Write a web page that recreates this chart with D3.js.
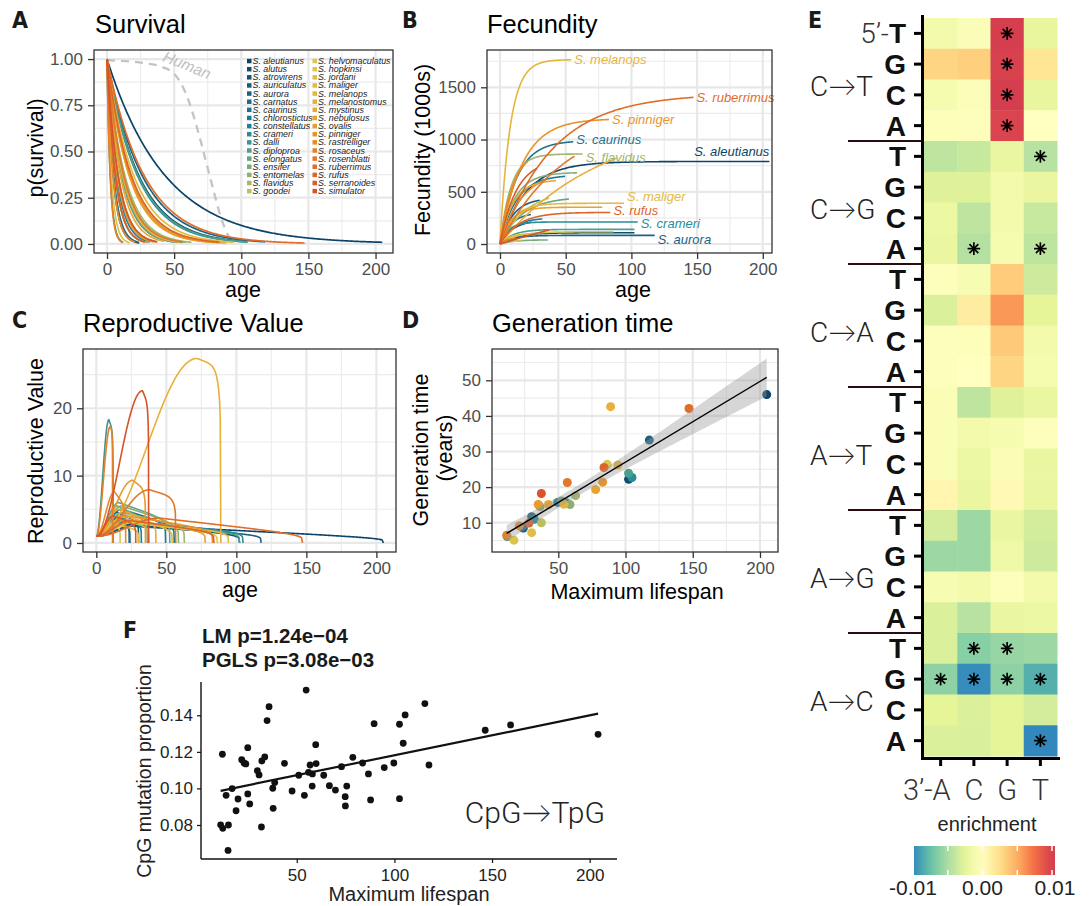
<!DOCTYPE html>
<html>
<head>
<meta charset="utf-8">
<script src="https://cdn.jsdelivr.net/npm/d3@7"></script>
<style>
  body { margin: 0; background: #fff; }
  text { font-family: "Liberation Sans", Arial, sans-serif; }
</style>
</head>
<body>
<svg width="1091" height="906"></svg>
<script>

// ---------------- data ----------------
var species = ["aleutianus", "alutus", "atrovirens", "auriculatus", "aurora", "carnatus", "caurinus",
    "chlorostictus", "constellatus", "crameri", "dalli", "diploproa", "elongatus", "ensifer", "entomelas",
    "flavidus", "goodei", "helvomaculatus", "hopkinsi", "jordani", "maliger", "melanops", "melanostomus",
    "mystinus", "nebulosus", "ovalis", "pinniger", "rastrelliger", "rosaceus", "rosenblatti", "ruberrimus",
    "rufus", "serranoides", "simulator"];

// maximum lifespan (years) and generation time (years), panel D
var lifespan = [205, 102.3, 24, 30.2, 117.7, 23.5, 55.7, 49.5, 32.2, 104.8, 12, 102.3, 52.5, 36.4, 58.7,
    62.9, 37.4, 86.4, 17, 30.2, 94.4, 54.2, 88.9, 42.6, 77.8, 35.1, 83, 21, 11.6, 56.7, 147.2, 84, 28.2, 37.4];
var genTime = [46.0, 22.2, 8.5, 11.7, 33.2, 8.6, 15.6, 15.7, 11.0, 22.7, 6.1, 23.9, 16.1, 14.5, 15.1,
    17.6, 10.0, 26.4, 5.1, 7.2, 26.2, 15.2, 42.6, 15.1, 19.3, 15.1, 21.4, 9.1, 6.5, 21.3, 42.1, 25.5, 9.9, 18.2];

// natural mortality per year (panel A)
var mortality = [0.023, 0.042, 0.22, 0.16, 0.038, 0.2, 0.085, 0.09, 0.14, 0.044, 0.4, 0.043, 0.09, 0.12, 0.08,
    0.075, 0.12, 0.055, 0.3, 0.16, 0.05, 0.085, 0.06, 0.1, 0.06, 0.13, 0.058, 0.22, 0.42, 0.08, 0.036, 0.055, 0.16, 0.12];

// fecundity asymptote (1000s) and growth rate (panel B)
var fecMax = [790, 108, 230, 440, 83, 300, 990, 660, 250, 211, 50, 140, 450, 40, 685,
    862, 520, 118, 30, 100, 390, 1765, 1200, 615, 352, 700, 1200, 900, 60, 1240, 1440, 303, 810, 790];
var fecRate = [0.05, 0.08, 0.1, 0.1, 0.1, 0.12, 0.08, 0.08, 0.1, 0.15, 0.2, 0.1, 0.06, 0.1, 0.09,
    0.12, 0.05, 0.08, 0.2, 0.15, 0.1, 0.13, 0.013, 0.1, 0.12, 0.06, 0.06, 0.1, 0.2, 0.02, 0.025, 0.07, 0.08, 0.005];

// reproductive value peak, age at peak and late-life decline (panel C)
var rvPeak = [2.6, 2.8, 3.5, 4.5, 2.5, 3.8, 4.5, 5.0, 4.0, 3.3, 18.3, 3.0, 6.0, 5.5, 5.5,
    4.5, 3.5, 3.0, 3.0, 2.8, 3.2, 4.0, 27.4, 5.0, 3.5, 9.3, 4.0, 7.6, 17.3, 7.9, 3.7, 3.3, 4.0, 22.6];
var rvPeakAge = [28, 22, 12, 15, 25, 12, 20, 18, 14, 18, 9, 20, 16, 15, 18,
    18, 16, 25, 8, 12, 25, 20, 72, 16, 22, 26, 22, 13, 10, 38, 45, 25, 12, 33];
var rvDecline = [0.7, 0.55, 0.3, 0.3, 0.5, 0.3, 0.4, 0.4, 0.3, 0.5, 0.1, 0.5, 0.45, 0.4, 0.5,
    0.45, 0.3, 0.5, 0.2, 0.3, 0.5, 0.5, 0.05, 0.4, 0.5, 0.15, 0.5, 0.3, 0.05, 0.15, 0.65, 0.5, 0.3, 0.1];

// human survival reference (panel A)
var humanAge = [0, 10, 20, 30, 40, 50, 55, 60, 65, 70, 75, 80, 85, 90, 95];
var humanSurv = [0.995, 0.99, 0.985, 0.975, 0.96, 0.92, 0.87, 0.79, 0.68, 0.55, 0.41, 0.27, 0.14, 0.05, 0.0];

// labelled curves in panel B and the small vertical nudge of each label
var labelledB = ["melanops", "ruberrimus", "pinniger", "caurinus", "flavidus", "aleutianus",
    "maliger", "rufus", "crameri", "aurora"];
var labelNudgeB = [0, 0, 0, -2, 3, -3, -7, -2, 2, 4];

// panel F
var cpgLifespan = [11.0, 12.1, 15.0, 14.8, 11.9, 13.8, 16.9, 18.9, 19.9, 21.8,
    23.0, 23.9, 24.9, 24.9, 25.9, 29.8, 30.7, 31.9, 32.1, 33.6,
    34.8, 35.8, 37.7, 37.9, 38.7, 43.7, 47.6, 51.0, 53.9, 54.8,
    56.0, 56.8, 57.9, 58.0, 59.7, 59.9, 63.8, 66.7, 69.8, 72.9,
    74.8, 74.9, 75.6, 78.7, 83.7, 86.7, 87.8, 89.6, 94.8, 99.7,
    102.6, 102.6, 104.5, 105.5, 115.6, 117.7, 146.5, 159.5, 204.3];
var cpgProp = [0.0801, 0.0782, 0.0800, 0.0661, 0.1187, 0.0962, 0.0999, 0.0878, 0.0942, 0.1157,
    0.1139, 0.1134, 0.1223, 0.0970, 0.0915, 0.1097, 0.1074, 0.0789, 0.1150, 0.1172,
    0.1371, 0.1447, 0.1001, 0.0891, 0.1033, 0.1137, 0.0986, 0.1072, 0.0962, 0.1538,
    0.1088, 0.1128, 0.1013, 0.1079, 0.1239, 0.1136, 0.1072, 0.1015, 0.0991, 0.1119,
    0.0955, 0.0904, 0.1013, 0.1170, 0.1139, 0.1079, 0.0937, 0.1354, 0.1114, 0.1139,
    0.1351, 0.0944, 0.1247, 0.1402, 0.1464, 0.1128, 0.1318, 0.1347, 0.1296];

// panel E
var mutTypes = ["C→T", "C→G", "C→A", "A→T", "A→G", "A→C"];
var fivePrime = ["T", "G", "C", "A"];
var threePrime = ["A", "C", "G", "T"];
var enrichment = [
    [-0.0012, -0.0005, 0.0100, -0.0022],
    [0.0030, 0.0033, 0.0098, 0.0020],
    [-0.0010, -0.0004, 0.0105, -0.0022],
    [-0.0003, -0.0002, 0.0097, 0.0000],
    [-0.0042, -0.0038, -0.0020, -0.0045],
    [-0.0028, -0.0028, -0.0012, -0.0020],
    [-0.0018, -0.0042, -0.0012, -0.0038],
    [-0.0020, -0.0046, -0.0010, -0.0042],
    [-0.0002, -0.0008, 0.0035, -0.0035],
    [-0.0030, 0.0015, 0.0058, -0.0025],
    [-0.0002, -0.0003, 0.0036, -0.0012],
    [-0.0002, 0.0000, 0.0030, -0.0010],
    [-0.0006, -0.0042, -0.0028, -0.0020],
    [-0.0006, -0.0012, -0.0010, -0.0002],
    [-0.0006, -0.0018, -0.0006, -0.0020],
    [0.0008, -0.0020, 0.0005, -0.0020],
    [-0.0033, -0.0055, -0.0020, -0.0033],
    [-0.0055, -0.0055, -0.0015, -0.0035],
    [-0.0008, -0.0012, -0.0002, -0.0012],
    [-0.0030, -0.0045, -0.0020, -0.0018],
    [-0.0030, -0.0063, -0.0057, -0.0055],
    [-0.0061, -0.0098, -0.0061, -0.0083],
    [-0.0025, -0.0030, -0.0025, -0.0033],
    [-0.0030, -0.0031, -0.0025, -0.0100]
];
// [row, column] of significant cells
var signifCells = [[0, 2], [1, 2], [2, 2], [3, 2], [4, 3], [7, 1], [7, 3],
    [20, 1], [20, 2], [21, 0], [21, 1], [21, 2], [21, 3], [23, 3]];
var enrichTicks = [-0.01, 0, 0.01];

// ---------------- setup ----------------
var svg = d3.select("svg");
var fontCond = "'Liberation Sans Narrow', 'DejaVu Sans Condensed', sans-serif";
var fontLight = "Roboto, Lato, 'Liberation Sans', sans-serif";
var titleSize = 25.5, axisTitleSize = 21.5, tickSize = 17;

var colorLin = d3.scaleLinear()
    .domain([0, 5, 8, 11, 15, 17, 22, 26, 33])
    .range(["#0b4468", "#1f6a88", "#17839e", "#4e9e8c", "#a0b66a", "#dcc84e", "#e8b03a", "#e8942a", "#d8522a"]);
var speciesColor = d3.scaleOrdinal()
    .domain(species)
    .range(species.map(function (s, i) { return colorLin(i); }));

var clipId = 0;

// ggplot theme_bw style panel
function bwPanel(p) {
    var x = d3.scaleLinear().domain(p.xDomain).range([p.left, p.right]);
    var y = d3.scaleLinear().domain(p.yDomain).range([p.bottom, p.top]);
    var g = svg.append("g");

    var grid = g.append("g");
    grid.selectAll(".vmin").data(p.xMinor).enter().append("line")
        .attr("x1", x).attr("x2", x).attr("y1", p.top).attr("y2", p.bottom)
        .attr("stroke", "#ececec").attr("stroke-width", 1.1);
    grid.selectAll(".hmin").data(p.yMinor).enter().append("line")
        .attr("y1", y).attr("y2", y).attr("x1", p.left).attr("x2", p.right)
        .attr("stroke", "#ececec").attr("stroke-width", 1.1);
    grid.selectAll(".vmaj").data(p.xMajor).enter().append("line")
        .attr("x1", x).attr("x2", x).attr("y1", p.top).attr("y2", p.bottom)
        .attr("stroke", "#e8e8e8").attr("stroke-width", 2.2);
    grid.selectAll(".hmaj").data(p.yMajor).enter().append("line")
        .attr("y1", y).attr("y2", y).attr("x1", p.left).attr("x2", p.right)
        .attr("stroke", "#e8e8e8").attr("stroke-width", 2.2);

    var cid = "clip" + (clipId++);
    g.append("clipPath").attr("id", cid).append("rect")
        .attr("x", p.left).attr("y", p.top)
        .attr("width", p.right - p.left).attr("height", p.bottom - p.top);
    var plot = g.append("g").attr("clip-path", "url(#" + cid + ")");
    var over = g.append("g");

    g.append("rect")
        .attr("x", p.left).attr("y", p.top)
        .attr("width", p.right - p.left).attr("height", p.bottom - p.top)
        .attr("fill", "none").attr("stroke", "#333").attr("stroke-width", 1.3);

    var xa = g.append("g").attr("transform", "translate(0," + p.bottom + ")")
        .call(d3.axisBottom(x).tickValues(p.xMajor).tickSize(6).tickPadding(4).tickFormat(d3.format("d")));
    var ya = g.append("g").attr("transform", "translate(" + p.left + ",0)")
        .call(d3.axisLeft(y).tickValues(p.yMajor).tickSize(6).tickPadding(5).tickFormat(p.yFormat || d3.format("d")));
    [xa, ya].forEach(function (a) {
        a.select(".domain").remove();
        a.selectAll(".tick line").attr("stroke", "#333").attr("stroke-width", 1.3);
        a.selectAll(".tick text").attr("fill", "#4d4d4d").attr("font-size", tickSize)
            .attr("font-family", "'Liberation Sans', Arial, sans-serif");
    });
    return { x: x, y: y, plot: plot, over: over };
}

function addText(t, x, y, size, opts) {
    opts = opts || {};
    var el = svg.append("text")
        .attr("x", x).attr("y", y)
        .attr("font-size", size)
        .attr("fill", opts.fill || "#000")
        .attr("text-anchor", opts.anchor || "start")
        .text(t);
    if (opts.weight) el.attr("font-weight", opts.weight);
    if (opts.family) el.style("font-family", opts.family);
    if (opts.rotate) el.attr("transform", "rotate(" + opts.rotate + "," + x + "," + y + ")");
    if (opts.italic) el.attr("font-style", "italic");
    return el;
}

function panelLetter(t, x, y) {
    addText(t, x, y, 23, { weight: "bold", family: fontCond, fill: "#1a1a1a" });
}

var ageSteps = d3.range(0, 1.0001, 1 / 240);

// ---------------- A: survival ----------------
var pA = bwPanel({
    left: 94, right: 393, top: 50, bottom: 253,
    xDomain: [-9.7, 213], yDomain: [-0.049, 1.049],
    xMajor: [0, 50, 100, 150, 200], xMinor: [25, 75, 125, 175],
    yMajor: [0, 0.25, 0.5, 0.75, 1], yMinor: [0.125, 0.375, 0.625, 0.875],
    yFormat: d3.format(".2f")
});

var humanLine = d3.line()
    .x(function (d, i) { return pA.x(humanAge[i]); })
    .y(function (d) { return pA.y(d); })
    .curve(d3.curveMonotoneX);
pA.plot.append("path")
    .attr("d", humanLine(humanSurv))
    .attr("fill", "none").attr("stroke", "#c4c4c4")
    .attr("stroke-width", 2.3).attr("stroke-dasharray", "8,6");

var survLine = d3.line()
    .x(function (d) { return pA.x(d[0]); })
    .y(function (d) { return pA.y(d[1]); });
pA.plot.selectAll(".surv").data(species).enter().append("path")
    .attr("d", function (s, i) {
        return survLine(ageSteps.map(function (f) {
            var t = f * lifespan[i];
            return [t, Math.exp(-mortality[i] * t)];
        }));
    })
    .attr("fill", "none")
    .attr("stroke", function (s) { return speciesColor(s); })
    .attr("stroke-width", 1.7);

addText("Human", 185, 70, 15.5, { fill: "#c0c0c0", italic: true, anchor: "middle", rotate: 22 });

// legend
var legendRows = 17;
var legend = pA.over.selectAll(".leg").data(species).enter().append("g")
    .attr("transform", function (s, i) {
        var col = Math.floor(i / legendRows), row = i % legendRows;
        return "translate(" + (247 + col * 65.5) + "," + (61 + row * 8.13) + ")";
    });
legend.append("rect")
    .attr("x", 0).attr("y", -2.2).attr("width", 4.5).attr("height", 4.5)
    .attr("fill", function (s) { return speciesColor(s); });
legend.append("text")
    .attr("x", 5.5).attr("y", 3.1)
    .attr("font-size", 8.9).attr("font-style", "italic").attr("fill", "#222")
    .text(function (s) { return "S. " + s; });

panelLetter("A", 12, 28);
addText("Survival", 95, 33, titleSize);
addText("p(survival)", 43, 148, axisTitleSize, { anchor: "middle", rotate: -90 });
addText("age", 243, 297, axisTitleSize, { anchor: "middle" });

// ---------------- B: fecundity ----------------
var pB = bwPanel({
    left: 487, right: 772, top: 50, bottom: 253,
    xDomain: [-9.9, 207], yDomain: [-86, 1857],
    xMajor: [0, 50, 100, 150, 200], xMinor: [25, 75, 125, 175],
    yMajor: [0, 500, 1000, 1500], yMinor: [250, 750, 1250, 1750]
});
var fecLine = d3.line()
    .x(function (d) { return pB.x(d[0]); })
    .y(function (d) { return pB.y(d[1]); });
function fecAt(i, t) { return fecMax[i] * (1 - Math.exp(-fecRate[i] * t)); }
pB.plot.selectAll(".fec").data(species).enter().append("path")
    .attr("d", function (s, i) {
        return fecLine(ageSteps.map(function (f) {
            var t = f * lifespan[i];
            return [t, fecAt(i, t)];
        }));
    })
    .attr("fill", "none")
    .attr("stroke", function (s) { return speciesColor(s); })
    .attr("stroke-width", 1.6);

pB.over.selectAll(".flab").data(labelledB).enter().append("text")
    .attr("x", function (s) {
        var i = species.indexOf(s);
        return pB.x(lifespan[i]) + (s === "aleutianus" ? 0 : 3);
    })
    .attr("y", function (s, j) {
        var i = species.indexOf(s);
        return pB.y(fecAt(i, lifespan[i])) + 4.5 + labelNudgeB[j] + (s === "aleutianus" ? -7 : 0);
    })
    .attr("text-anchor", function (s) { return s === "aleutianus" ? "end" : "start"; })
    .attr("font-size", 13).attr("font-style", "italic")
    .attr("fill", function (s) { return speciesColor(s); })
    .text(function (s) { return "S. " + s; });

panelLetter("B", 402, 28);
addText("Fecundity", 487, 33, titleSize);
addText("Fecundity (1000s)", 430, 150, axisTitleSize, { anchor: "middle", rotate: -90 });
addText("age", 633, 297, axisTitleSize, { anchor: "middle" });

// ---------------- C: reproductive value ----------------
var pC = bwPanel({
    left: 83, right: 396, top: 349, bottom: 552,
    xDomain: [-9.5, 214], yDomain: [-1.34, 28.8],
    xMajor: [0, 50, 100, 150, 200], xMinor: [25, 75, 125, 175],
    yMajor: [0, 10, 20], yMinor: [5, 15, 25]
});
function rvAt(i, t) {
    var w = lifespan[i], pa = rvPeakAge[i], pk = rvPeak[i], u;
    if (t <= pa) {
        u = Math.sin(t / pa * Math.PI / 2);
        return 1 + (pk - 1) * u * u;
    }
    u = Math.min(1, (t - pa) / (w - pa));
    return pk * (1 - rvDecline[i] * u) * Math.pow(Math.max(0, 1 - Math.pow(u, 6)), 1 / 6);
}
var rvLine = d3.line()
    .x(function (d) { return pC.x(d[0]); })
    .y(function (d) { return pC.y(d[1]); });
pC.plot.selectAll(".rv").data(species).enter().append("path")
    .attr("d", function (s, i) {
        return rvLine(ageSteps.map(function (f) {
            var t = f * lifespan[i];
            return [t, rvAt(i, t)];
        }));
    })
    .attr("fill", "none")
    .attr("stroke", function (s) { return speciesColor(s); })
    .attr("stroke-width", 1.6);

panelLetter("C", 12, 328);
addText("Reproductive Value", 83, 332, titleSize);
addText("Reproductive Value", 43, 451, axisTitleSize, { anchor: "middle", rotate: -90 });
addText("age", 240, 597, axisTitleSize, { anchor: "middle" });

// ---------------- D: generation time ----------------
function linFit(xs, ys) {
    var n = xs.length, mx = d3.mean(xs), my = d3.mean(ys);
    var sxx = d3.sum(xs, function (v) { return (v - mx) * (v - mx); });
    var sxy = d3.sum(xs.map(function (v, i) { return (v - mx) * (ys[i] - my); }));
    var b = sxy / sxx, a = my - b * mx;
    var sse = d3.sum(xs.map(function (v, i) { var r = ys[i] - a - b * v; return r * r; }));
    return { a: a, b: b, s: Math.sqrt(sse / (n - 2)), n: n, mx: mx, sxx: sxx };
}

var pD = bwPanel({
    left: 492, right: 778, top: 349, bottom: 552,
    xDomain: [0.7, 213.4], yDomain: [1.77, 58.8],
    xMajor: [50, 100, 150, 200], xMinor: [25, 75, 125, 175],
    yMajor: [10, 20, 30, 40, 50], yMinor: [5, 15, 25, 35, 45, 55]
});
pD.plot.selectAll(".gpt").data(species).enter().append("circle")
    .attr("cx", function (s, i) { return pD.x(lifespan[i]); })
    .attr("cy", function (s, i) { return pD.y(genTime[i]); })
    .attr("r", 4.5)
    .attr("fill", function (s) { return speciesColor(s); });

var fitD = linFit(lifespan, genTime);
var xsD = d3.range(d3.min(lifespan), d3.max(lifespan) + 0.001, (d3.max(lifespan) - d3.min(lifespan)) / 80);
var tCrit = 2.037;
function seD(v) { return fitD.s * Math.sqrt(1 / fitD.n + (v - fitD.mx) * (v - fitD.mx) / fitD.sxx); }
var bandD = d3.area()
    .x(function (v) { return pD.x(v); })
    .y0(function (v) { return pD.y(fitD.a + fitD.b * v - tCrit * seD(v)); })
    .y1(function (v) { return pD.y(fitD.a + fitD.b * v + tCrit * seD(v)); });
pD.plot.append("path").attr("d", bandD(xsD)).attr("fill", "#999").attr("fill-opacity", 0.4);
pD.plot.append("line")
    .attr("x1", pD.x(xsD[0])).attr("y1", pD.y(fitD.a + fitD.b * xsD[0]))
    .attr("x2", pD.x(xsD[xsD.length - 1])).attr("y2", pD.y(fitD.a + fitD.b * xsD[xsD.length - 1]))
    .attr("stroke", "#000").attr("stroke-width", 1.4);

panelLetter("D", 402, 328);
addText("Generation time", 492, 332, titleSize);
addText("Generation time", 428, 450, axisTitleSize, { anchor: "middle", rotate: -90 });
addText("(years)", 452, 448, axisTitleSize, { anchor: "middle", rotate: -90 });
addText("Maximum lifespan", 637, 599, axisTitleSize, { anchor: "middle" });

// ---------------- E: heatmap ----------------
var rowIdx = d3.range(enrichment.length);
var yHeat = d3.scaleBand().domain(rowIdx).range([18, 756]);
var xHeat = d3.scaleBand().domain(threePrime).range([924, 1057]);
var heatColor = d3.scaleLinear()
    .domain([-0.01, -0.0075, -0.005, -0.0025, 0, 0.0025, 0.005, 0.0075, 0.01])
    .range(["#3288bd", "#66c2a5", "#abdda4", "#e6f598", "#ffffbf", "#fee08b", "#fdae61", "#f46d43", "#d53e4f"])
    .clamp(true);

var cells = [];
enrichment.forEach(function (row, r) {
    row.forEach(function (v, c) { cells.push({ r: r, c: threePrime[c], v: v }); });
});
svg.append("g").selectAll("rect").data(cells).enter().append("rect")
    .attr("x", function (d) { return xHeat(d.c); })
    .attr("y", function (d) { return yHeat(d.r); })
    .attr("width", xHeat.bandwidth() + 0.5)
    .attr("height", yHeat.bandwidth() + 0.5)
    .attr("fill", function (d) { return heatColor(d.v); });

// asterisks
var star = svg.append("g").selectAll("g").data(signifCells).enter().append("g")
    .attr("transform", function (d) {
        return "translate(" + (xHeat(threePrime[d[1]]) + xHeat.bandwidth() / 2) + "," +
            (yHeat(d[0]) + yHeat.bandwidth() / 2) + ")";
    });
[0, 45, 90, 135].forEach(function (a) {
    star.append("line")
        .attr("x1", -6.3).attr("x2", 6.3).attr("y1", 0).attr("y2", 0)
        .attr("transform", "rotate(" + a + ")")
        .attr("stroke", "#000").attr("stroke-width", 1.7);
});

// axes
var axE = svg.append("g");
axE.append("line").attr("x1", 922.5).attr("x2", 922.5).attr("y1", 15).attr("y2", 760)
    .attr("stroke", "#000").attr("stroke-width", 3);
axE.append("line").attr("x1", 921).attr("x2", 1060).attr("y1", 758.5).attr("y2", 758.5)
    .attr("stroke", "#000").attr("stroke-width", 3);
axE.selectAll(".yt").data(rowIdx).enter().append("line")
    .attr("x1", 914).attr("x2", 922)
    .attr("y1", function (r) { return yHeat(r) + yHeat.bandwidth() / 2; })
    .attr("y2", function (r) { return yHeat(r) + yHeat.bandwidth() / 2; })
    .attr("stroke", "#000").attr("stroke-width", 3);
axE.selectAll(".xt").data(threePrime).enter().append("line")
    .attr("x1", function (c) { return xHeat(c) + xHeat.bandwidth() / 2; })
    .attr("x2", function (c) { return xHeat(c) + xHeat.bandwidth() / 2; })
    .attr("y1", 758).attr("y2", 766)
    .attr("stroke", "#000").attr("stroke-width", 3);

var rowLab = axE.selectAll(".yl").data(rowIdx).enter().append("text")
    .attr("x", 906)
    .attr("y", function (r) { return yHeat(r) + yHeat.bandwidth() / 2; })
    .attr("dy", "0.36em")
    .attr("text-anchor", "end")
    .attr("font-size", 28);
rowLab.filter(function (r) { return r === 0; }).append("tspan")
    .attr("font-weight", 300).attr("fill", "#333").style("font-family", fontLight)
    .text("5’-");
rowLab.append("tspan")
    .attr("font-weight", "bold").attr("fill", "#111")
    .text(function (r) { return fivePrime[r % 4]; });

// group separators and mutation labels
axE.selectAll(".sep").data(d3.range(1, mutTypes.length)).enter().append("line")
    .attr("x1", 848).attr("x2", 922)
    .attr("y1", function (k) { return yHeat(k * 4); })
    .attr("y2", function (k) { return yHeat(k * 4); })
    .attr("stroke", "#2b0c0e").attr("stroke-width", 2);
axE.selectAll(".mt").data(mutTypes).enter().append("text")
    .attr("x", 810)
    .attr("y", function (m, k) { return yHeat(k * 4) + 2 * yHeat.bandwidth() + 6; })
    .attr("dy", "0.36em")
    .attr("font-size", 28).attr("font-weight", 300).attr("fill", "#222")
    .style("font-family", fontLight)
    .text(function (m) { return m; });

axE.selectAll(".xl").data(threePrime).enter().append("text")
    .attr("x", function (c, i) { return xHeat(c) + xHeat.bandwidth() / 2 + (i === 0 ? 10 : 0); })
    .attr("y", 800)
    .attr("text-anchor", function (c, i) { return i === 0 ? "end" : "middle"; })
    .attr("font-size", 29).attr("font-weight", 300).attr("fill", "#333")
    .style("font-family", fontLight)
    .text(function (c, i) { return (i === 0 ? "3’-" : "") + c; });

// colour bar
var barX = d3.scaleLinear().domain([-0.01, 0.01]).range([913, 1052]);
var grad = svg.append("defs").append("linearGradient").attr("id", "enrichGrad")
    .attr("x1", "0%").attr("x2", "100%").attr("y1", "0%").attr("y2", "0%");
var barLeft = 914, barRight = 1055;
d3.range(0, 1.0001, 0.05).forEach(function (f) {
    var v = barX.invert(barLeft + f * (barRight - barLeft));
    grad.append("stop").attr("offset", (f * 100) + "%").attr("stop-color", heatColor(v));
});
svg.append("rect").attr("x", barLeft).attr("y", 846).attr("width", barRight - barLeft).attr("height", 29)
    .attr("fill", "url(#enrichGrad)");
var barTicks = [-0.005, 0, 0.005, 0.01];
svg.selectAll(".bt").data(barTicks).enter().append("line")
    .attr("x1", barX).attr("x2", barX).attr("y1", 846).attr("y2", 851)
    .attr("stroke", "#fff").attr("stroke-width", 1.5);
svg.selectAll(".bb").data(barTicks).enter().append("line")
    .attr("x1", barX).attr("x2", barX).attr("y1", 870).attr("y2", 875)
    .attr("stroke", "#fff").attr("stroke-width", 1.5);
svg.selectAll(".bl").data(enrichTicks).enter().append("text")
    .attr("x", function (v) { return barX(v) + (v > 0 ? 3 : 0); })
    .attr("y", 895)
    .attr("text-anchor", "middle")
    .attr("font-size", 21).attr("fill", "#222")
    .text(function (v) { return d3.format(".2f")(v).replace("\u2212", "-"); });
addText("enrichment", 987, 831, 20, { anchor: "middle", fill: "#222" });
panelLetter("E", 808, 28);

// ---------------- F: CpG ----------------
var xF = d3.scaleLinear().domain([0.95, 214]).range([201, 617]);
var yF = d3.scaleLinear().domain([0.0614, 0.1582]).range([859, 682]);
var gF = svg.append("g");
var xaF = gF.append("g").attr("transform", "translate(0,859)")
    .call(d3.axisBottom(xF).tickValues([50, 100, 150, 200]).tickSize(4).tickPadding(6).tickFormat(d3.format("d")));
var yaF = gF.append("g").attr("transform", "translate(201,0)")
    .call(d3.axisLeft(yF).tickValues([0.08, 0.10, 0.12, 0.14]).tickSize(4).tickPadding(4).tickFormat(d3.format(".2f")));
[xaF, yaF].forEach(function (a) {
    a.select(".domain").attr("stroke", "#111").attr("stroke-width", 1.4);
    a.selectAll(".tick line").attr("stroke", "#111").attr("stroke-width", 1.2);
    a.selectAll(".tick text").attr("fill", "#222").attr("font-size", 17)
        .attr("font-family", "'Liberation Sans', Arial, sans-serif");
});
xaF.select(".domain").attr("d", "M0,0H" + (617 - 201)).attr("transform", "translate(201,0)");
yaF.select(".domain").attr("d", "M0,0V" + (859 - 682)).attr("transform", "translate(0,682)");

gF.selectAll(".fp").data(cpgLifespan).enter().append("circle")
    .attr("cx", function (v) { return xF(v); })
    .attr("cy", function (v, i) { return yF(cpgProp[i]); })
    .attr("r", 3.4).attr("fill", "#111");
var fitF = linFit(cpgLifespan, cpgProp);
var fx0 = d3.min(cpgLifespan), fx1 = d3.max(cpgLifespan);
gF.append("line")
    .attr("x1", xF(fx0)).attr("y1", yF(fitF.a + fitF.b * fx0))
    .attr("x2", xF(fx1)).attr("y2", yF(fitF.a + fitF.b * fx1))
    .attr("stroke", "#111").attr("stroke-width", 2.2);

addText("LM p=1.24e\u221204", 202, 643, 20.5, { weight: "bold", fill: "#1a1a1a" });
addText("PGLS p=3.08e\u221203", 202, 667, 20.5, { weight: "bold", fill: "#1a1a1a" });
addText("CpG\u2192TpG", 605, 823, 30, { anchor: "end", weight: 300, family: fontLight, fill: "#222" });
addText("CpG mutation proportion", 151, 771, 19.5, { anchor: "middle", rotate: -90, fill: "#222" });
addText("Maximum lifespan", 409, 901, 20, { anchor: "middle", fill: "#222" });
panelLetter("F", 123, 638);

</script>
</body>
</html>
